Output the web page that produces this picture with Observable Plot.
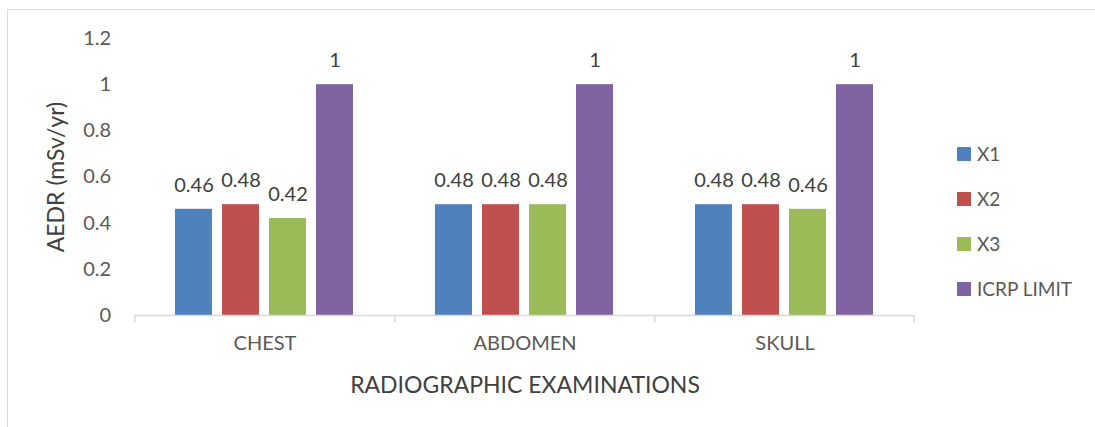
<!DOCTYPE html>
<html>
<head>
<meta charset="utf-8">
<script src="https://cdn.jsdelivr.net/npm/d3@7"></script>
<script src="https://cdn.jsdelivr.net/npm/@observablehq/plot@0.6"></script>
<style>
  html, body { margin: 0; padding: 0; background: #fff; }
  #chart { position: relative; width: 1095px; height: 427px; overflow: hidden; font-family: Lato, "Open Sans", sans-serif; }
  #border { position: absolute; left: 7px; top: 9px; width: 1200px; height: 600px; border: 1px solid #d9d9d9; box-sizing: border-box; }
  #plot { position: absolute; left: 0; top: 0; }
  #legend { position: absolute; left: 957px; top: 131px; color: #595959; font-size: 19px; }
  #legend .item { display: flex; align-items: center; height: 45px; }
  #legend .swatch { width: 14px; height: 14px; margin-right: 6px; }
</style>
</head>
<body>
<div id="chart">
  <div id="border"></div>
  <div id="plot"></div>
  <div id="legend"></div>
</div>
<script>
// Annual effective dose rate per examination room and the ICRP limit
const categories = ["CHEST", "ABDOMEN", "SKULL"];
const series = ["X1", "X2", "X3", "ICRP LIMIT"];
const valuesX1 = [0.46, 0.48, 0.48];
const valuesX2 = [0.48, 0.48, 0.48];
const valuesX3 = [0.42, 0.48, 0.46];
const valuesICRP = [1, 1, 1];
const colors = ["#4F81BD", "#C0504D", "#9BBB59", "#8064A2"];
const yTicks = [0, 0.2, 0.4, 0.6, 0.8, 1, 1.2];
const yTitle = "AEDR (mSv/yr)";
const xTitle = "RADIOGRAPHIC EXAMINATIONS";

const seriesValues = [valuesX1, valuesX2, valuesX3, valuesICRP];
const rows = categories.flatMap((exam, i) =>
  series.map((s, j) => ({exam, series: s, value: seriesValues[j][i]}))
);

// Layout
const width = 930, height = 427;
const marginLeft = 134, marginRight = 14, marginTop = 38, marginBottom = 112;
const fxPadInner = 0.31, fxPadOuter = 0.155;
const xPadInner = 0.21;

// Facet geometry, used to extend the category axis line and its dividers
const plotW = width - marginLeft - marginRight;
const fxStep = plotW / (categories.length - fxPadInner + 2 * fxPadOuter);
const fxBand = fxStep * (1 - fxPadInner);
const halfGap = fxStep * fxPadInner / 2;
const outerGap = fxStep * fxPadOuter;
const xStep = fxBand / (series.length - xPadInner);
const xBand = xStep * (1 - xPadInner);
const axisGrey = "#d9d9d9";
const titleColor = "#404040";

const chart = Plot.plot({
  width, height, marginLeft, marginRight, marginTop, marginBottom,
  style: {fontFamily: "Lato, 'Open Sans', sans-serif", fontSize: "20px", color: "#595959", background: "transparent", overflow: "visible"},
  fx: {domain: categories, paddingInner: fxPadInner, paddingOuter: fxPadOuter},
  x: {domain: series, paddingInner: xPadInner, paddingOuter: 0, axis: null},
  y: {domain: [0, 1.2]},
  color: {domain: series, range: colors},
  marks: [
    Plot.barY(rows, {fx: "exam", x: "series", y: "value", fill: "series"}),
    // category axis line spanning the full plot width
    Plot.ruleY([0], {stroke: axisGrey, strokeWidth: 1.5, insetLeft: -halfGap, insetRight: -halfGap}),
    // dividers between categories
    Plot.ruleX(categories, {fx: (d) => d, x: () => series[0], y1: 0, y2: 0, insetBottom: -7,
      dx: -xBand / 2 - halfGap, stroke: axisGrey, strokeWidth: 1.5}),
    Plot.ruleX([categories[categories.length - 1]], {fx: (d) => d, x: () => series[series.length - 1], y1: 0, y2: 0, insetBottom: -7,
      dx: xBand / 2 + halfGap, stroke: axisGrey, strokeWidth: 1.5}),
    // value labels above the bars
    Plot.text(rows, {fx: "exam", x: "series", y: "value", text: (d) => String(d.value),
      dy: -24, fill: "#404040", fontSize: 20}),
    Plot.axisY({ticks: yTicks, tickSize: 0, tickPadding: outerGap + 24, tickFormat: (d) => String(d),
      fill: "#595959", fontSize: 20, label: null}),
    Plot.axisFx({anchor: "bottom", tickSize: 0, tickPadding: 20, fill: "#595959", fontSize: 20, label: null}),
    // axis titles (the facet frame starts after the outer band padding)
    Plot.text([yTitle], {facet: "super", frameAnchor: "left", textAnchor: "middle", rotate: -90,
      dx: -(78 + outerGap), fill: titleColor, fontSize: 23}),
    Plot.text([xTitle], {facet: "super", frameAnchor: "bottom", dy: 77,
      fill: titleColor, fontSize: 23})
  ]
});
document.getElementById("plot").appendChild(chart);

// Legend to the right of the plot
const legend = d3.select("#legend");
series.forEach((s, j) => {
  const item = legend.append("div").attr("class", "item");
  item.append("div").attr("class", "swatch").style("background", colors[j]);
  item.append("span").text(s);
});
</script>
</body>
</html>
